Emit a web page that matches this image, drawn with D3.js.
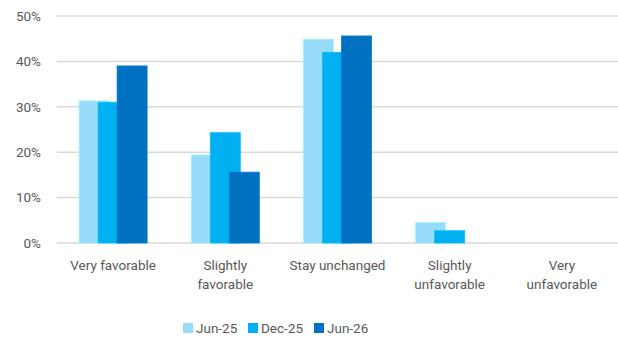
<!DOCTYPE html>
<html>
<head>
<meta charset="utf-8">
<script src="https://cdn.jsdelivr.net/npm/d3@7"></script>
<style>
  html, body { margin: 0; padding: 0; background: #fff; }
  svg text { font-family: Roboto, "Noto Sans", sans-serif; fill: #595959; }
</style>
</head>
<body>
<svg id="chart" width="618" height="340"></svg>
<script>
// Expected business conditions, share of respondents
const categories = [["Very favorable"], ["Slightly", "favorable"], ["Stay unchanged"], ["Slightly", "unfavorable"], ["Very", "unfavorable"]];
const seriesNames = ["Jun-25", "Dec-25", "Jun-26"];
const jun25 = [31.3, 19.4, 44.9, 4.5, 0];
const dec25 = [31.0, 24.3, 42.0, 2.7, 0];
const jun26 = [39.0, 15.6, 45.6, 0, 0];
const yTicks = [0, 10, 20, 30, 40, 50];
const colors = ["#97dcfb", "#00b0f0", "#0070c0"];

const series = [jun25, dec25, jun26];
const svg = d3.select("#chart");
const margin = { left: 57, right: 0, top: 16, bottom: 97 };
const W = 618, H = 340;
const fontSize = 13.5;

const x = d3.scaleBand()
  .domain(categories.map((d, i) => i))
  .range([margin.left, W - margin.right])
  .padding(0);
const y = d3.scaleLinear().domain([0, 50]).range([H - margin.bottom, margin.top]);

// gridlines
svg.append("g")
  .selectAll("line")
  .data(yTicks)
  .join("line")
  .attr("x1", margin.left).attr("x2", W - margin.right)
  .attr("y1", d => y(d)).attr("y2", d => y(d))
  .attr("stroke", "#d9d9d9").attr("stroke-width", 1.5);

// y labels
svg.append("g")
  .selectAll("text")
  .data(yTicks)
  .join("text")
  .attr("x", 41).attr("y", d => y(d))
  .attr("dy", "0.36em")
  .attr("text-anchor", "end")
  .attr("font-size", fontSize)
  .text(d => d + "%");

// overlapping clustered bars
const barW = 30, step = 19;
const inner = d3.scaleLinear().domain([0, 2]).range([-step, step]);
series.forEach((vals, s) => {
  svg.append("g")
    .selectAll("rect")
    .data(vals)
    .join("rect")
    .attr("x", (d, i) => x(i) + x.bandwidth() / 2 + inner(s) - barW / 2)
    .attr("width", barW)
    .attr("y", d => y(d))
    .attr("height", d => y(0) - y(d))
    .attr("fill", colors[s])
    .attr("stroke", d3.color(colors[s]).brighter(0.25))
    .attr("stroke-width", d => d > 0 ? 0.8 : 0);
});

// category labels
const cat = svg.append("g")
  .selectAll("text")
  .data(categories)
  .join("text")
  .attr("x", (d, i) => x(i) + x.bandwidth() / 2)
  .attr("y", 270)
  .attr("text-anchor", "middle")
  .attr("font-size", fontSize);
cat.selectAll("tspan")
  .data(d => d)
  .join("tspan")
  .attr("x", function () { return d3.select(this.parentNode).attr("x"); })
  .attr("dy", (d, i) => i === 0 ? 0 : 19)
  .text(d => d);

// legend
const legendX = [183, 248, 314];
const lg = svg.append("g")
  .selectAll("g")
  .data(seriesNames)
  .join("g")
  .attr("transform", (d, i) => `translate(${legendX[i]},328)`);
lg.append("rect")
  .attr("x", 0).attr("y", -5).attr("width", 10).attr("height", 10)
  .attr("fill", (d, i) => colors[i]);
lg.append("text")
  .attr("x", 13).attr("y", 0).attr("dy", "0.36em")
  .attr("font-size", fontSize)
  .text(d => d);
</script>
</body>
</html>
